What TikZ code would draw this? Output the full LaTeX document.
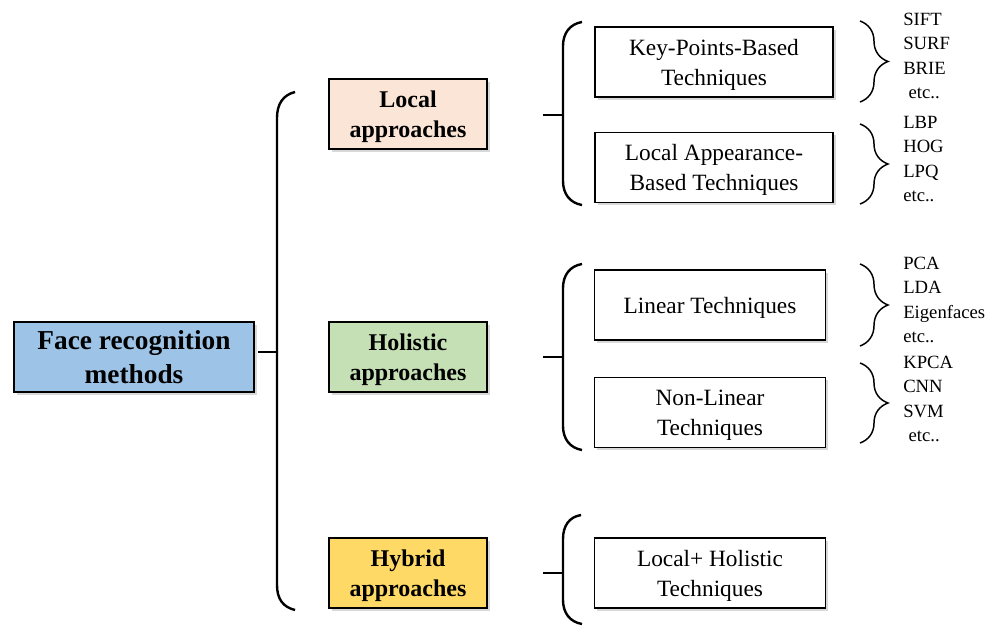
\documentclass[tikz,border=0pt]{standalone}
\usepackage{fontspec}
\setmainfont{Liberation Serif}
\usetikzlibrary{positioning,shadows,decorations.pathreplacing}

\definecolor{rootblue}{HTML}{9DC3E6}
\definecolor{localpeach}{HTML}{FBE5D6}
\definecolor{holigreen}{HTML}{C5E0B4}
\definecolor{hybridyellow}{HTML}{FFD966}

\begin{document}
\begin{tikzpicture}[x=0.75pt, y=-0.75pt,
    box/.style = {draw, line width=1pt, align=center, inner sep=0pt,
        drop shadow={shadow xshift=2pt, shadow yshift=-2pt, opacity=0.3}},
    root/.style = {box, fill=rootblue, minimum width=180pt, minimum height=52.5pt,
        font=\fontsize{20.5}{25.5}\selectfont\bfseries},
    approach/.style = {box, minimum width=118.5pt, minimum height=52.5pt,
        text depth=0pt, font=\fontsize{18}{22.5}\selectfont\bfseries},
    tech/.style = {box, fill=white, minimum height=52.5pt,
        text depth=0pt, font=\fontsize{17.5}{22.5}\selectfont},
    bracket/.style = {line width=1.8pt},
    curly/.style = {line width=1.1pt, decorate, decoration={brace, amplitude=21pt}},
    items/.style = {align=left, anchor=west, inner sep=0pt,
        font=\fontsize{14}{18.4}\selectfont}]
    \useasboundingbox[fill=white] (0,0) rectangle (987,627);

    % Nodes
    \node[root] (face) at (134,357) {Face recognition\\methods};
    \node[approach, fill=localpeach] (local) at (408,114) {Local\\approaches};
    \node[approach, fill=holigreen] (holistic) at (408,357) {Holistic\\approaches};
    \node[approach, fill=hybridyellow] (hybrid) at (408,573) {Hybrid\\approaches};

    \node[tech, minimum width=178.5pt] (keypts) at (714,62) {Key-Points-Based\\Techniques};
    \node[tech, minimum width=178.5pt] (appear) [below=25.5pt of keypts] {Local Appearance-\\Based Techniques};
    \node[tech, minimum width=173pt] (linear) at (710,305) {Linear Techniques};
    \node[tech, minimum width=173pt] (nonlin) [below=27pt of linear] {Non-Linear\\Techniques};
    \node[tech, minimum width=173pt] (mixed) at (710,573) {Local+ Holistic\\Techniques};

    % Brackets
    \draw[bracket] (258,352) -- (277,352);
    \draw[bracket] (295,92) .. controls (283,95) and (277,104) .. (277,118) -- (277,585)
        .. controls (277,599) and (283,607) .. (295,610);

    \draw[bracket] (543,115) -- (563,115);
    \draw[bracket] (582,22) .. controls (570,24) and (563,33) .. (563,46) -- (563,181)
        .. controls (563,194) and (570,203) .. (582,205);

    \draw[bracket] (543,357) -- (563,357);
    \draw[bracket] (582,264) .. controls (570,266) and (563,275) .. (563,288) -- (563,426)
        .. controls (563,439) and (570,448) .. (582,450);

    \draw[bracket] (543,573) -- (563,573);
    \draw[bracket] (581,515) .. controls (569,517) and (563,526) .. (563,539) -- (563,600)
        .. controls (563,613) and (570,622) .. (582,624);

    % Braces and examples
    \draw[curly] (860,21) -- (860,102);
    \draw[curly] (860,124) -- (860,204);
    \draw[curly] (860,264) -- (860,346);
    \draw[curly] (860,363) -- (860,443);

    \node[items] (ex1) at (903,56) {SIFT\\SURF\\BRIE\\\hspace{4pt}etc..};
    \node[items] (ex2) at (903,159) {LBP\\HOG\\LPQ\\etc..};
    \node[items] (ex3) at (903,300) {PCA\\LDA\\Eigenfaces\\etc..};
    \node[items] (ex4) at (903,399) {KPCA\\CNN\\SVM\\\hspace{4pt}etc..};
\end{tikzpicture}
\end{document}
